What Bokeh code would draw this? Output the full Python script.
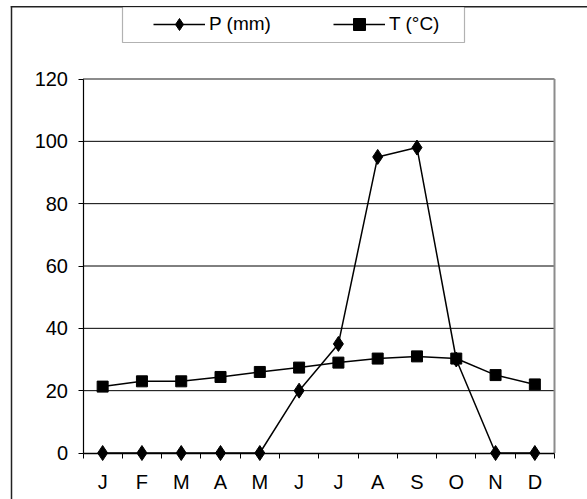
from bokeh.plotting import figure
from bokeh.models import FixedTicker, Legend, LegendItem, BoxAnnotation, Range1d
from bokeh.embed import file_html
from bokeh.resources import INLINE

months = ["J", "F", "M", "A", "M", "J", "J", "A", "S", "O", "N", "D"]
precip_mm = [0, 0, 0, 0, 0, 20, 35, 95, 98, 30, 0, 0]
temp_c = [21.3, 23, 23, 24.4, 26, 27.4, 29, 30.3, 31, 30.3, 25, 22]
y_ticks = [0, 20, 40, 60, 80, 100, 120]
labels = ["P (mm)", "T (°C)"]

x = list(range(1, len(months) + 1))
x_lo, x_hi = 0.5, len(months) + 0.5
y_lo, y_hi = y_ticks[0], y_ticks[-1]
FONT = "Liberation Sans"

# layout (pixels in the canvas)
W, H = 587, 499
AX_L, AX_R = 82.5, 554.0      # plot-area left/right
AX_T, AX_B = 78.5, 452.5      # plot-area top/bottom
kx = (AX_R - AX_L) / (x_hi - x_lo)
ky = (AX_B - AX_T) / (y_hi - y_lo)
xr = Range1d(x_lo - AX_L / kx, x_lo + (W - AX_L) / kx)
yr = Range1d(y_lo - (H - AX_B) / ky, y_hi + AX_T / ky)

p = figure(width=W, height=H, frame_width=W, frame_height=H,
           min_border=0, min_border_left=0, min_border_right=0,
           min_border_top=0, min_border_bottom=0,
           x_range=xr, y_range=yr,
           output_backend="svg", toolbar_location=None)

p.outline_line_color = None
p.background_fill_color = "white"
p.border_fill_color = "white"
p.xgrid.visible = False
p.ygrid.visible = False


def canvas_box(left, right, top, bottom, **kw):
    return BoxAnnotation(left=left, right=right, top=top, bottom=bottom,
                         left_units="canvas", right_units="canvas",
                         top_units="canvas", bottom_units="canvas", **kw)


# outer chart border (top and left edges; the rest is beyond the picture)
p.add_layout(canvas_box(10.25, W, 5.5, 7.0, fill_color="#222222", fill_alpha=1, line_alpha=0))
p.add_layout(canvas_box(10.25, 11.75, 5.5, H, fill_color="#222222", fill_alpha=1, line_alpha=0))

# horizontal gridlines inside plot area
grid_y = y_ticks[1:-1]
p.segment(x0=[x_lo] * len(grid_y), y0=grid_y, x1=[x_hi] * len(grid_y), y1=grid_y,
          line_color="black", line_width=1)
# plot-area border (top and right, gray)
p.segment(x0=[x_lo, x_hi], y0=[y_hi, y_lo], x1=[x_hi, x_hi], y1=[y_hi, y_hi],
          line_color="#8c8c8c", line_width=2)

# y axis
p.yaxis.fixed_location = x_lo
p.yaxis.bounds = (y_lo, y_hi)
p.yaxis.ticker = FixedTicker(ticks=y_ticks)
p.yaxis.axis_line_color = "black"
p.yaxis.axis_line_width = 1.2
p.yaxis.major_tick_out = 5
p.yaxis.major_tick_in = 0
p.yaxis.minor_tick_line_color = None
p.yaxis.major_label_standoff = 10
p.yaxis.major_label_text_font = FONT
p.yaxis.major_label_text_font_size = "20px"
p.yaxis.major_label_text_color = "black"

# x axis: labels at centers, ticks between months
p.xaxis.fixed_location = y_lo
p.xaxis.bounds = (x_lo, x_hi)
p.xaxis.ticker = FixedTicker(ticks=x, minor_ticks=[i + 0.5 for i in range(0, len(months) + 1)])
p.xaxis.major_label_overrides = {i: m for i, m in zip(x, months)}
p.xaxis.major_tick_line_color = None
p.xaxis.minor_tick_line_color = "black"
p.xaxis.minor_tick_out = 5
p.xaxis.minor_tick_in = 0
p.xaxis.axis_line_color = "black"
p.xaxis.axis_line_width = 1.5
p.xaxis.major_label_standoff = 12
p.xaxis.major_label_text_font = FONT
p.xaxis.major_label_text_font_size = "20px"
p.xaxis.major_label_text_color = "black"

# series
lp = p.line(x, precip_mm, line_color="black", line_width=1.5)
sp = p.scatter(x, precip_mm, marker="diamond", size=15, fill_color="black", line_color="black")
lt = p.line(x, temp_c, line_color="black", line_width=1.5)
st = p.scatter(x, temp_c, marker="square", size=11, fill_color="black", line_color="black")

# legend box
p.add_layout(canvas_box(122, 464, 6.5, 42, fill_color="white", fill_alpha=1,
                        line_color="black", line_width=1.2))

legend = Legend(items=[LegendItem(label=labels[0], renderers=[lp, sp]),
                       LegendItem(label=labels[1], renderers=[lt, st])],
                orientation="horizontal", location=(153, H - 9 - 30),
                border_line_color=None, background_fill_alpha=0,
                padding=0, margin=0, spacing=62,
                glyph_width=52, glyph_height=30, label_standoff=4,
                label_text_font=FONT, label_text_font_size="19px",
                label_text_color="black")
p.add_layout(legend, "center")

open("out.html", "w").write(file_html(p, INLINE))
